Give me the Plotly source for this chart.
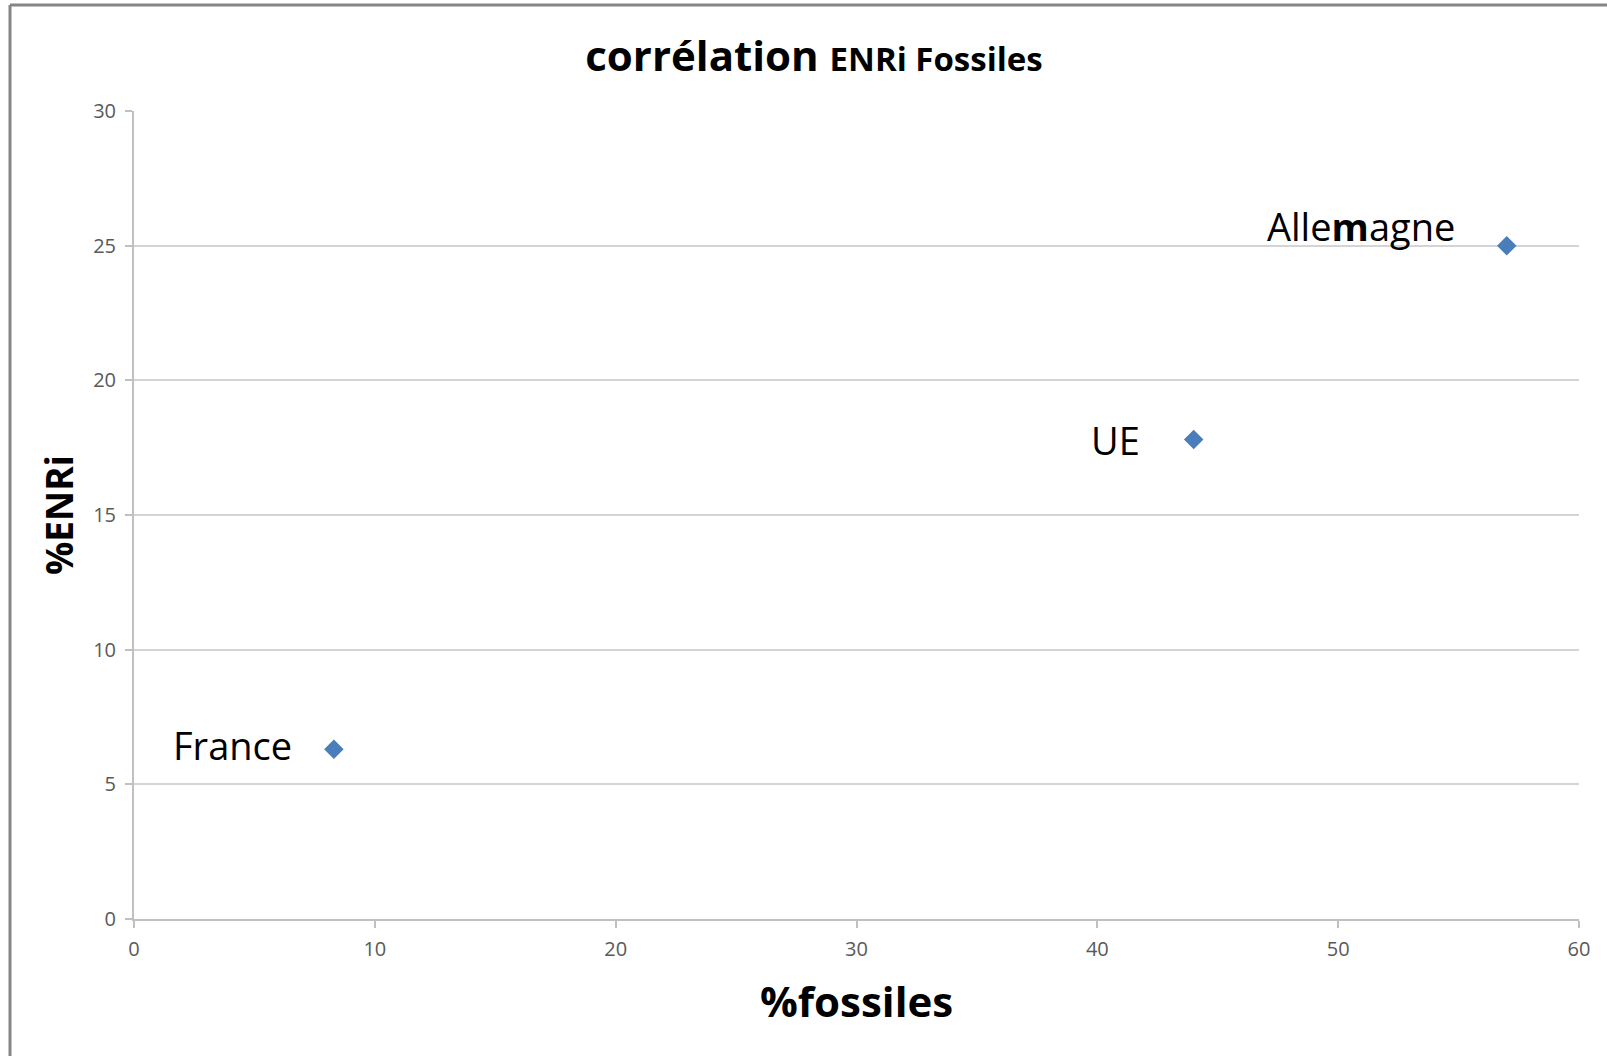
import plotly.graph_objects as go

# Share of fossil energy vs share of intermittent renewables (%)
pays = ["France", "UE", "Allemagne"]
etiquettes = ["France", "UE", "Alle<b>m</b>agne"]
pct_fossiles = [8.3, 44.0, 57.0]
pct_enri = [6.3, 17.8, 25.0]

x_ticks = [0, 10, 20, 30, 40, 50, 60]
y_ticks = [0, 5, 10, 15, 20, 25, 30]

W, H = 1607, 1056
ML, MR, MT, MB = 134, 28, 111, 137
PW, PH = W - ML - MR, H - MT - MB

FONT = "Open Sans"
BLUE = "#4a7ebb"

fig = go.Figure()
fig.add_trace(go.Scatter(
    x=pct_fossiles, y=pct_enri, mode="markers", name="ENRi",
    marker=dict(symbol="diamond", size=15, color=BLUE),
    hovertext=pays, showlegend=False,
))

# Country labels to the left of each point
label_shift = {"France": (-40, 4), "UE": (-52, 0), "Allemagne": (-50, 20)}
annotations = []
for p, lab, xv, yv in zip(pays, etiquettes, pct_fossiles, pct_enri):
    dx, dy = label_shift[p]
    annotations.append(dict(
        x=xv, y=yv, xref="x", yref="y", text=lab, showarrow=False,
        xanchor="right", yanchor="middle", xshift=dx, yshift=dy,
        font=dict(family=FONT, size=38, color="#000000"),
    ))

# Axis titles
annotations.append(dict(
    x=0.5, y=(MT + PH - 1000) / PH, xref="paper", yref="paper",
    text="<b>%fossiles</b>", showarrow=False, xanchor="center", yanchor="middle",
    font=dict(family=FONT, size=42, color="#000000"),
))
annotations.append(dict(
    x=(58 - ML) / PW, y=0.5, xref="paper", yref="paper",
    text="<b>%ENRi</b>", showarrow=False, xanchor="center", yanchor="middle",
    textangle=-90, font=dict(family=FONT, size=37, color="#000000"),
))

# Chart frame (top and left edges)
x_left = (10 - ML) / PW
y_top = (MT + PH - 5) / PH
shapes = [
    dict(type="line", xref="paper", yref="paper", x0=x_left, x1=(W - ML) / PW + 0.01,
         y0=y_top, y1=y_top, line=dict(color="#858585", width=3)),
    dict(type="line", xref="paper", yref="paper", x0=x_left, x1=x_left,
         y0=y_top, y1=-0.2, line=dict(color="#858585", width=3)),
]

fig.update_layout(
    width=W, height=H,
    margin=dict(l=ML, r=MR, t=MT, b=MB),
    paper_bgcolor="white", plot_bgcolor="white",
    title=dict(
        text="<b>corrélation <span style='font-size:33px'>ENRi Fossiles</span></b>",
        x=814 / W, xref="container", xanchor="center",
        y=1 - 56 / H, yref="container", yanchor="middle",
        font=dict(family=FONT, size=42, color="#000000"),
    ),
    annotations=annotations,
    shapes=shapes,
    showlegend=False,
)

fig.update_xaxes(
    range=[0, 60], tickvals=x_ticks, showgrid=False, zeroline=False,
    showline=True, linecolor="#c0c0c0", linewidth=2,
    ticks="outside", ticklen=7, tickcolor="#c0c0c0", tickwidth=2,
    ticklabelstandoff=4,
    tickfont=dict(family=FONT, size=20, color="#595959"),
)
fig.update_yaxes(
    range=[0, 30], tickvals=y_ticks, showgrid=True, gridcolor="#d4d4d4", gridwidth=2,
    zeroline=False, showline=True, linecolor="#c0c0c0", linewidth=2,
    ticks="outside", ticklen=7, tickcolor="#c0c0c0", tickwidth=2,
    ticklabelstandoff=5,
    tickfont=dict(family=FONT, size=20, color="#595959"),
)

fig.write_html("out.html")
